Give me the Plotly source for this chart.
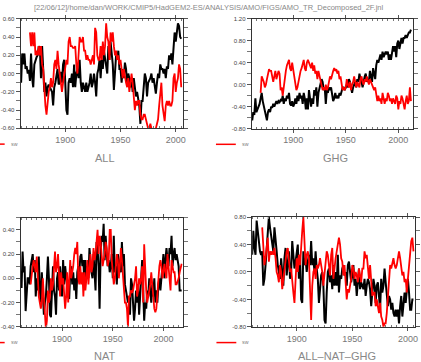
import plotly.graph_objects as go

TITLE = "[22/06/12]/home/dan/WORK/CMIP5/HadGEM2-ES/ANALYSIS/AMO/FIGS/AMO_TR_Decomposed_2F.jnl"
PANEL_NAMES = ["ALL", "GHG", "NAT", "ALL\u2013NAT\u2013GHG"]
LEGEND_LABEL = "SW"
X_TICKS = [1900, 1950, 2000]

# ---------------- ALL ----------------
all_black_start = 1860
all_black = [
    -0.10, 0.22, 0.10, 0.22, 0.05, 0.08, 0.00, 0.04, -0.08, 0.22,
    -0.05, -0.15, 0.10, 0.15, 0.18, 0.20, 0.30, 0.28, -0.05, 0.30,
    0.05, -0.20, -0.10, -0.25, -0.15, -0.12, -0.15, -0.18, -0.20, -0.35,
    -0.15, -0.10, 0.00, 0.05, -0.12, -0.10, 0.02, -0.10, 0.10, 0.15,
    -0.10, -0.40, -0.45, -0.10, -0.05, -0.10, 0.00, -0.15, 0.10, -0.15,
    0.00, 0.05, -0.05, 0.15, -0.10, -0.20, -0.10, -0.15, -0.20, -0.10,
    -0.20, -0.15, -0.10, 0.00, -0.15, -0.10, 0.00, -0.10, -0.25, 0.00,
    0.05, 0.15, -0.05, 0.15, 0.05, 0.25, 0.15, 0.10, 0.00, 0.30,
    0.15, 0.35, 0.20, 0.10, -0.18, 0.05, 0.20, 0.15, 0.25, 0.05,
    0.05, -0.10, 0.05, -0.05, 0.12, 0.05, -0.10, 0.00, -0.05, -0.15,
    -0.05, -0.20, -0.05, -0.15, -0.25, -0.20, -0.30, -0.35, -0.55, -0.30,
    -0.30, -0.15, 0.00, -0.05, -0.25, -0.10, -0.08, -0.05, 0.00, -0.10,
    -0.05, -0.12, -0.22, -0.10, 0.00, -0.05, 0.10, 0.05, 0.05, 0.00,
    0.05, -0.05, 0.08, 0.05, 0.20, 0.15, 0.22, 0.10, 0.30, 0.45,
    0.35, 0.50, 0.55, 0.52, 0.40, 0.38,
]
all_red_start = 1868
all_red = [
    0.45, 0.30,
    0.45, 0.30, 0.45, 0.20, 0.25, 0.20, 0.30, 0.20, 0.30, 0.10,
    0.05, -0.20, -0.35, -0.45, -0.30, -0.20, -0.15, -0.05, -0.15, -0.10,
    0.10, 0.15, 0.05, 0.25, 0.10, 0.00, -0.10, -0.20, -0.10, 0.00,
    0.05, 0.15, 0.10, 0.35, 0.40, 0.30, 0.30, 0.28, 0.28, 0.30,
    0.10, 0.00, 0.20, 0.40, 0.35, 0.35, 0.40, 0.25, 0.25, 0.15,
    0.20, 0.15, 0.15, 0.10, 0.15, 0.20, 0.10, 0.50, 0.45, 0.20,
    0.15, 0.15, 0.30, 0.15, 0.35, 0.20, 0.30, 0.55, 0.40, 0.35,
    0.15, 0.45, 0.35, 0.45, 0.30, 0.20, 0.25, 0.15, 0.20, 0.10,
    0.15, 0.00, -0.05, 0.05, -0.05, -0.10, -0.15, -0.05, -0.20, -0.10,
    0.00, -0.10, -0.25, -0.40, -0.30, -0.35, -0.30, -0.30, -0.45, -0.50,
    -0.50, -0.45, -0.45, -0.50, -0.55, -0.60, -0.60, -0.55, -0.60, -0.65,
    -0.60, -0.62, -0.60, -0.55, -0.50, -0.35, -0.25, -0.10, -0.35, -0.45,
    -0.52, -0.35, -0.30, -0.35, -0.30, -0.35, -0.35, -0.30, -0.05, 0.00,
    -0.20, -0.10, -0.05, 0.10, 0.05, -0.15,
]

# ---------------- GHG ----------------
ghg_black_start = 1860
ghg_black = [
    -0.55, -0.65, -0.50, -0.55, -0.25, -0.50, -0.45, -0.40, -0.35, -0.25,
    -0.15, -0.30, -0.40, -0.45, -0.55, -0.65, -0.50, -0.45, -0.50, -0.40,
    -0.42, -0.35, -0.40, -0.35, -0.30, -0.35, -0.30, -0.32, -0.28, -0.30,
    -0.20, -0.35, -0.25, -0.30, -0.20, -0.25, -0.15, -0.35, -0.38, -0.30,
    -0.40, -0.35, -0.25, -0.35, -0.20, -0.30, -0.15, -0.25, -0.20, -0.35,
    -0.15, -0.25, -0.45, -0.25, -0.45, -0.10, -0.30, -0.40, -0.25, -0.35,
    -0.10, -0.20, -0.05, -0.40, -0.15, -0.05, 0.05, 0.10, 0.05, -0.10,
    -0.05, -0.35, -0.10, -0.15, -0.05, -0.10, -0.05, -0.20, -0.30, -0.25,
    -0.15, -0.25, -0.20, -0.25, -0.15, -0.20, -0.10, -0.05, -0.05, -0.10,
    -0.05, 0.00, -0.05, 0.10, 0.05, -0.05, -0.15, -0.05, 0.00, 0.05,
    -0.05, 0.10, 0.05, 0.20, 0.10, 0.05, -0.05, 0.10, 0.15, 0.20,
    0.05, 0.10, 0.05, 0.25, 0.15, 0.05, 0.30, 0.20, 0.10, 0.35,
    0.45, 0.40, 0.50, 0.55, 0.45, 0.60, 0.50, 0.55, 0.60, 0.55,
    0.60, 0.45, 0.55, 0.45, 0.60, 0.70, 0.60, 0.70, 0.50, 0.75,
    0.80, 0.65, 0.75, 0.85, 0.75, 0.85, 0.85, 0.90, 0.85, 0.90,
    0.95, 0.95, 1.00,
]
ghg_red_start = 1869
ghg_red = [
    -0.15,
    0.15, 0.10, 0.05, -0.05, 0.00, 0.10, 0.20, 0.28, 0.25, 0.25,
    0.15, 0.05, 0.15, 0.25, 0.10, 0.20, 0.25, 0.20, -0.10, -0.05,
    -0.20, -0.05, 0.15, 0.25, 0.35, 0.40, 0.45, 0.30, 0.25, 0.40,
    0.25, 0.10, 0.05, -0.10, -0.05, 0.05, 0.20, 0.25, 0.30, 0.40,
    0.45, 0.30, 0.25, 0.40, 0.45, 0.40, 0.35, 0.30, 0.40, 0.25,
    0.35, 0.20, 0.25, 0.10, 0.25, 0.15, 0.05, -0.05, -0.10, -0.05,
    -0.10, 0.00, -0.10, -0.05, 0.05, 0.15, 0.10, 0.20, 0.25, 0.30,
    0.25, 0.28, 0.20, 0.25, 0.10, 0.15, 0.00, -0.10, -0.05, -0.10,
    -0.05, 0.10, 0.00, -0.05, 0.05, -0.10, 0.00, 0.05, 0.15, 0.00,
    -0.05, 0.05, 0.00, -0.05, 0.10, 0.15, 0.05, 0.00, 0.10, 0.05,
    0.15, 0.05, 0.00, 0.10, 0.05, 0.00, -0.05, -0.10, -0.05, -0.15,
    -0.30, -0.20, -0.30, -0.25, -0.35, -0.15, -0.25, -0.35, -0.25, -0.30,
    -0.15, -0.20, -0.30, -0.25, -0.35, -0.25, -0.30, -0.35, -0.20, -0.25,
    -0.45, -0.30, -0.35, -0.20, -0.25, -0.35, -0.45, -0.30, -0.20, -0.35,
    -0.30, -0.05, -0.30,
]

# ---------------- NAT ----------------
nat_black_start = 1860
nat_black = [
    -0.08, 0.22, 0.05, 0.10, -0.27, -0.10, 0.00, 0.00, -0.05, 0.10,
    0.15, 0.20, 0.05, 0.15, -0.15, 0.00, -0.10, 0.18, -0.10, -0.20,
    0.05, -0.10, -0.30, -0.20, -0.15, 0.00, 0.18, 0.00, -0.30, -0.32,
    -0.10, 0.10, -0.10, -0.15, -0.30, 0.00, 0.05, -0.10, 0.10, 0.00,
    -0.15, 0.15, -0.05, 0.10, 0.00, -0.05, -0.15, -0.17, 0.05, 0.10,
    -0.05, 0.05, -0.10, 0.00, -0.17, 0.05, 0.10, 0.05, 0.18, 0.20,
    0.10, 0.15, -0.05, 0.15, 0.00, 0.10, 0.00, 0.25, 0.10, 0.05,
    0.00, 0.20, 0.05, -0.10, 0.30, 0.25, 0.10, -0.25, 0.20, 0.35,
    0.30, 0.45, 0.15, 0.35, 0.20, 0.10, 0.15, 0.05, 0.10, 0.20,
    0.00, 0.35, 0.05, 0.10, -0.05, 0.20, 0.15, 0.10, 0.05, 0.30,
    0.10, 0.20, -0.05, -0.10, -0.15, -0.20, -0.15, -0.30, 0.00, -0.05,
    -0.20, -0.35, -0.25, -0.10, -0.20, -0.05, -0.30, -0.15, 0.05, 0.15,
    -0.10, -0.35, -0.20, -0.25, -0.10, -0.15, 0.00, -0.10, -0.20, -0.05,
    -0.15, 0.00, -0.20, -0.10, -0.20, -0.05, 0.00, -0.10, 0.05, 0.10,
    0.20, 0.00, 0.15, 0.25, 0.15, 0.10, 0.25, 0.20, 0.35, 0.10,
    0.20, 0.25, 0.15, 0.20, 0.15, 0.10, -0.10, -0.10, -0.10,
]
nat_red_start = 1869
nat_red = [
    -0.05,
    0.05, 0.10, 0.15, 0.10, 0.05, 0.18, -0.05, -0.15, -0.20, -0.25,
    -0.20, 0.00, -0.15, -0.30, -0.42, -0.35, -0.10, -0.20, -0.15, 0.00,
    -0.10, -0.05, 0.10, 0.22, 0.05, 0.10, 0.20, -0.05, -0.15, 0.05,
    -0.05, 0.00, -0.15, -0.25, -0.15, 0.05, -0.20, 0.00, 0.15, 0.00,
    0.05, 0.10, 0.20, 0.25, 0.20, 0.30, 0.00, -0.05, 0.10, -0.05,
    0.05, -0.15, 0.05, -0.10, 0.00, 0.15, -0.05, 0.05, 0.20, 0.05,
    0.10, 0.25, 0.15, 0.20, 0.30, 0.40, 0.20, 0.35, 0.30, 0.20,
    0.10, 0.15, 0.20, 0.30, 0.25, 0.10, 0.15, 0.40, 0.40, 0.15,
    0.05, -0.05, 0.00, 0.10, 0.20, 0.15, 0.00, 0.10, 0.25, 0.15,
    0.00, -0.10, -0.20, -0.20, -0.25, -0.40, -0.15, -0.15, -0.10, -0.12,
    -0.10, -0.05, 0.00, 0.10, -0.15, -0.10, 0.00, -0.05, 0.00, 0.10,
    -0.20, 0.28, 0.00, -0.10, -0.20, -0.15, -0.10, -0.05, 0.05, -0.10,
    -0.15, -0.25, -0.28, -0.25, -0.10, 0.00, 0.10, 0.15, 0.10, 0.00,
    0.05, 0.12, 0.05, 0.00, 0.20, 0.10, 0.05, -0.10, 0.15, 0.08,
    0.05, 0.05, -0.05, -0.05, -0.03, 0.00, 0.05, 0.10, 0.12,
]

# ---------------- ALL-NAT-GHG ----------------
res_black_start = 1860
res_black = [
    0.25, 0.60, 0.35, 0.25, 0.75, 0.60, 0.40, 0.30, 0.25, 0.30,
    -0.20, -0.10, 0.10, 0.30, 0.50, 0.80, 0.65, 0.55, 0.40, 0.30,
    0.65, 0.50, 0.30, 0.10, 0.00, -0.10, 0.20, 0.05, -0.20, 0.20,
    0.35, -0.05, 0.10, 0.30, -0.10, 0.00, 0.45, 0.20, 0.05, 0.15,
    0.30, 0.40, -0.10, 0.25, -0.40, -0.45, 0.30, 0.10, 0.20, 0.00,
    0.15, 0.25, 0.10, 0.45, 0.10, 0.20, 0.00, 0.30, 0.05, -0.10,
    -0.45, -0.20, -0.05, 0.00, -0.20, -0.70, -0.75, -0.30, 0.00, 0.05,
    -0.15, -0.05, -0.25, 0.10, -0.20, 0.00, -0.20, 0.25, -0.30, -0.05,
    -0.10, 0.05, 0.10, -0.05, 0.00, -0.20, 0.10, 0.15, 0.00, -0.15,
    -0.05, 0.10, -0.20, -0.10, -0.35, -0.10, 0.05, -0.25, -0.15, -0.20,
    -0.25, -0.10, -0.35, -0.20, -0.10, -0.15, -0.25, -0.50, -0.30, -0.10,
    -0.20, -0.45, -0.20, -0.15, -0.35, -0.55, -0.10, -0.30, -0.20, 0.05,
    -0.15, -0.30, -0.50, -0.35, -0.40, -0.55, -0.45, -0.60, -0.65, -0.55,
    -0.65, -0.55, -0.75, -0.50, -0.35, -0.65, -0.50, -0.30, -0.45, -0.25,
    -0.10, -0.30, -0.55, -0.55, -0.40, -0.40,
]
res_red_start = 1869
res_red = [
    0.65,
    0.40, 0.10, 0.20, 0.35, 0.50, 0.15, 0.30, 0.25, 0.30, 0.25,
    0.35, 0.20, 0.00, -0.05, -0.15, 0.10, 0.00, -0.25, -0.10, 0.00,
    0.10, 0.30, 0.35, 0.20, 0.00, 0.05, -0.20, -0.30, -0.45, -0.05,
    0.20, 0.00, 0.25, 0.10, 0.45, 0.60, 0.80, 0.30, 0.10, 0.25,
    0.30, 0.20, -0.15, -0.70, -0.20, 0.00, 0.05, -0.10, 0.10, 0.05,
    0.10, 0.20, 0.10, 0.00, -0.20, -0.05, 0.10, 0.30, 0.25, 0.05,
    -0.05, 0.25, 0.35, -0.10, 0.10, 0.20, 0.30, 0.40, 0.50, 0.40,
    0.20, 0.15, -0.05, 0.10, -0.15, -0.40, -0.25, -0.30, -0.20, -0.10,
    0.10, 0.05, -0.10, 0.00, -0.05, -0.15, 0.05, -0.10, -0.15, 0.05,
    0.05, 0.30, 0.20, 0.25, 0.10, -0.10, 0.10, -0.20, -0.35, -0.30,
    -0.30, -0.50, -0.40, -0.50, -0.60, -0.45, -0.65, -0.70, -0.80, -0.75,
    -0.75, -0.60, -0.30, -0.10, 0.10, 0.05, 0.15, 0.20, 0.10, 0.05,
    0.10, 0.20, 0.30, 0.20, 0.10, -0.05, 0.00, -0.15, -0.10, -0.30,
    -0.10, 0.10, 0.20, 0.45, 0.50, 0.30,
]

# y tick labels per panel
all_ytick_vals = [-0.6, -0.4, -0.2, 0.0, 0.2, 0.4, 0.6]
all_ytick_text = ["-0.60", "-0.40", "-0.20", "0.00", "0.20", "0.40", "0.60"]
ghg_ytick_vals = [-0.8, -0.4, 0.0, 0.4, 0.8, 1.2]
ghg_ytick_text = ["-0.80", "-0.40", "0.00", "0.40", "0.80", "1.20"]
nat_ytick_vals = [-0.4, -0.2, 0.0, 0.2, 0.4]
nat_ytick_text = ["-0.40", "-0.20", "0.00", "0.20", "0.40"]
res_ytick_vals = [-0.8, -0.4, 0.0, 0.4, 0.8]
res_ytick_text = ["-0.80", "-0.40", "0.00", "0.40", "0.80"]

W, H = 421, 362

def yrs(start, vals):
    return list(range(start, start + len(vals)))

# panel geometry in pixels: (left, right, top, bottom)
panels = [
    dict(box=(20.7, 184.0, 16.0, 127.5), xr=[1859.5, 2006.3], yr=[-0.6, 0.6], ydt=0.1,
         yv=all_ytick_vals, yt=all_ytick_text,
         black=(all_black_start, all_black), red=(all_red_start, all_red)),
    dict(box=(253.5, 416.0, 16.0, 127.7), xr=[1860.5, 2014.0], yr=[-0.8, 1.2], ydt=0.2,
         yv=ghg_ytick_vals, yt=ghg_ytick_text,
         black=(ghg_black_start, ghg_black), red=(ghg_red_start, ghg_red)),
    dict(box=(20.7, 184.0, 218.3, 329.3), xr=[1859.0, 2019.0], yr=[-0.4, 0.5], ydt=0.1,
         yv=nat_ytick_vals, yt=nat_ytick_text,
         black=(nat_black_start, nat_black), red=(nat_red_start, nat_red)),
    dict(box=(254.0, 418.0, 217.7, 329.3), xr=[1860.0, 2006.4], yr=[-0.8, 0.8], ydt=0.2,
         yv=res_ytick_vals, yt=res_ytick_text,
         black=(res_black_start, res_black), red=(res_red_start, res_red)),
]

fig = go.Figure()
layout = dict(
    width=W, height=H, margin=dict(l=0, r=0, t=0, b=0),
    paper_bgcolor="white", plot_bgcolor="white", showlegend=False,
    font=dict(family="Liberation Sans, Arial, sans-serif", color="#666"),
)
annotations = []
shapes = []

for i, p in enumerate(panels):
    n = "" if i == 0 else str(i + 1)
    L, R, T, B = p["box"]
    xa = dict(domain=[L / W, R / W], range=p["xr"], showgrid=False, zeroline=False,
              showline=True, linecolor="#333", linewidth=1, mirror="allticks",
              ticks="outside", ticklen=3, tickcolor="#555", tickwidth=1,
              tickvals=X_TICKS, ticktext=[str(v) for v in X_TICKS],
              tickfont=dict(size=9, color="#777"),
              minor=dict(dtick=5, tick0=1860, ticks="inside", ticklen=2, tickcolor="#777"),
              anchor="y" + n, fixedrange=True)
    ya = dict(domain=[1 - B / H, 1 - T / H], range=p["yr"], showgrid=False, zeroline=False,
              showline=True, linecolor="#333", linewidth=1, mirror="allticks",
              ticks="outside", ticklen=4, tickcolor="#555", tickwidth=1,
              tickvals=p["yv"], ticktext=p["yt"],
              tickfont=dict(size=6, color="#444"),
              minor=dict(dtick=p["ydt"], tick0=0, ticks="outside", ticklen=4, tickcolor="#777"),
              anchor="x" + n, fixedrange=True)
    layout["xaxis" + n] = xa
    layout["yaxis" + n] = ya

    bs, bv = p["black"]
    rs, rv = p["red"]
    fig.add_trace(go.Scatter(x=yrs(bs, bv), y=bv, mode="lines",
                             line=dict(color="black", width=2), xaxis="x" + n, yaxis="y" + n))
    fig.add_trace(go.Scatter(x=yrs(rs, rv), y=rv, mode="lines",
                             line=dict(color="#ff0000", width=1.8), xaxis="x" + n, yaxis="y" + n))

    # panel title below the axis
    annotations.append(dict(text=PANEL_NAMES[i], x=((L + R) / 2 + 3) / W, y=1 - (B + 30) / H,
                            xref="paper", yref="paper", showarrow=False,
                            font=dict(size=11, color="#888"), xanchor="center", yanchor="middle"))
    # legend sample
    lx0 = L - 36
    ly = B + 16
    shapes.append(dict(type="line", xref="paper", yref="paper",
                       x0=lx0 / W, x1=(lx0 + 20) / W, y0=1 - ly / H, y1=1 - ly / H,
                       line=dict(color="#ff0000", width=1.5)))
    annotations.append(dict(text=LEGEND_LABEL, x=(lx0 + 24) / W, y=1 - ly / H,
                            xref="paper", yref="paper", showarrow=False,
                            font=dict(size=4, color="#666"), xanchor="left", yanchor="middle"))

annotations.append(dict(text=TITLE, x=210 / W, y=1 - 4.5 / H, xref="paper", yref="paper",
                        showarrow=False, font=dict(size=7.5, color="#888"),
                        xanchor="center", yanchor="middle"))
layout["annotations"] = annotations
layout["shapes"] = shapes
fig.update_layout(**layout)
fig.write_html("out.html", config={"displayModeBar": False},
               post_script="document.body.style.margin='0';document.body.style.overflow='hidden';")
